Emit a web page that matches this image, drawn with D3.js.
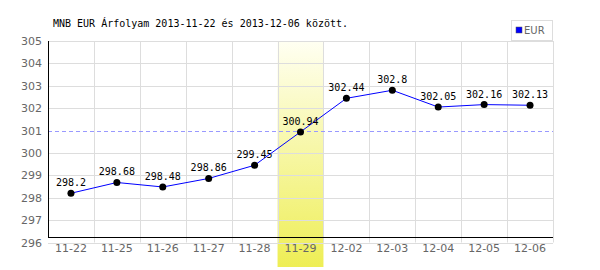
<!DOCTYPE html>
<html>
<head>
<meta charset="utf-8">
<script src="https://cdn.jsdelivr.net/npm/d3@7"></script>
<style>
  body { margin: 0; background: #fff; }
</style>
</head>
<body>
<script>
// Chart data
const dates = ["11-22", "11-25", "11-26", "11-27", "11-28", "11-29", "12-02", "12-03", "12-04", "12-05", "12-06"];
const rates = [298.2, 298.68, 298.48, 298.86, 299.45, 300.94, 302.44, 302.8, 302.05, 302.16, 302.13];
const yTicks = [296, 297, 298, 299, 300, 301, 302, 303, 304, 305];
const average = 301;
const highlightDate = "11-29";
const title = "MNB EUR Árfolyam 2013-11-22 és 2013-12-06 között.";

const width = 600;
const height = 270;
const plotLeft = 48, plotRight = 553, plotTop = 41, plotBottom = 242.5;

const svg = d3.select("body").append("svg")
    .attr("width", width)
    .attr("height", height);

const x = d3.scaleBand()
    .domain(dates)
    .range([plotLeft, plotRight]);

const y = d3.scaleLinear()
    .domain([296, 305])
    .range([plotBottom, plotTop]);

// Gradient for highlighted day
const grad = svg.append("defs").append("linearGradient")
    .attr("id", "hl")
    .attr("x1", 0).attr("y1", 0).attr("x2", 0).attr("y2", 1);
grad.append("stop").attr("offset", "0%").attr("stop-color", "#fffff2");
grad.append("stop").attr("offset", "100%").attr("stop-color", "#eeee55");

svg.append("rect")
    .attr("x", x(highlightDate))
    .attr("y", plotTop)
    .attr("width", x.bandwidth())
    .attr("height", 267 - plotTop)
    .attr("fill", "url(#hl)");

// Grid lines
svg.selectAll(".hgrid")
    .data(yTicks.filter(d => d !== average))
    .enter()
    .append("line")
    .attr("x1", plotLeft).attr("x2", plotRight)
    .attr("y1", d => Math.round(y(d)) + 0.5)
    .attr("y2", d => Math.round(y(d)) + 0.5)
    .attr("stroke", "#dddddd");

svg.selectAll(".vgrid")
    .data(dates.slice(1).concat(["end"]))
    .enter()
    .append("line")
    .attr("x1", d => Math.round(d === "end" ? plotRight : x(d)) + 0.5)
    .attr("x2", d => Math.round(d === "end" ? plotRight : x(d)) + 0.5)
    .attr("y1", plotTop)
    .attr("y2", plotBottom)
    .attr("stroke", "#dddddd");

// Average dashed line
svg.append("line")
    .attr("x1", plotLeft).attr("x2", plotRight)
    .attr("y1", Math.round(y(average)) + 0.5)
    .attr("y2", Math.round(y(average)) + 0.5)
    .attr("stroke", "#9999ff")
    .attr("stroke-dasharray", "4,3");

// Axes lines
svg.append("line")
    .attr("x1", plotLeft + 0.5).attr("x2", plotLeft + 0.5)
    .attr("y1", plotTop).attr("y2", 238)
    .attr("stroke", "#000");
svg.append("line")
    .attr("x1", plotLeft).attr("x2", plotRight)
    .attr("y1", 237.5).attr("y2", 237.5)
    .attr("stroke", "#000");

// Y tick labels
svg.selectAll(".ylab")
    .data(yTicks)
    .enter()
    .append("text")
    .attr("x", 42)
    .attr("y", d => y(d) + 4)
    .attr("text-anchor", "end")
    .attr("font-family", "DejaVu Sans, sans-serif")
    .attr("font-size", 11)
    .attr("fill", "#666")
    .text(d => d);

// X tick labels
svg.selectAll(".xlab")
    .data(dates)
    .enter()
    .append("text")
    .attr("x", d => x(d) + x.bandwidth() / 2)
    .attr("y", 252)
    .attr("text-anchor", "middle")
    .attr("font-family", "DejaVu Sans, sans-serif")
    .attr("font-size", 11)
    .attr("fill", "#666")
    .text(d => d);

// Line
const line = d3.line()
    .x((d, i) => x(dates[i]) + x.bandwidth() / 2)
    .y(d => y(d));

svg.append("path")
    .datum(rates)
    .attr("d", line)
    .attr("fill", "none")
    .attr("stroke", "#0000ff")
    .attr("stroke-width", 1);

svg.selectAll(".pt")
    .data(rates)
    .enter()
    .append("circle")
    .attr("cx", (d, i) => x(dates[i]) + x.bandwidth() / 2)
    .attr("cy", d => y(d))
    .attr("r", 3.5)
    .attr("fill", "#000");

// Value labels
svg.selectAll(".val")
    .data(rates)
    .enter()
    .append("text")
    .attr("x", (d, i) => x(dates[i]) + x.bandwidth() / 2)
    .attr("y", d => y(d) - 7)
    .attr("text-anchor", "middle")
    .attr("font-family", "DejaVu Sans Mono, monospace")
    .attr("font-size", 10)
    .attr("fill", "#000")
    .text(d => d);

// Title
svg.append("text")
    .attr("x", 53)
    .attr("y", 27)
    .attr("font-family", "DejaVu Sans Mono, monospace")
    .attr("font-size", 10)
    .attr("fill", "#000")
    .text(title);

// Legend
svg.append("rect")
    .attr("x", 511.5).attr("y", 20.5)
    .attr("width", 41).attr("height", 20)
    .attr("fill", "#fff")
    .attr("stroke", "#dddddd");
svg.append("rect")
    .attr("x", 516).attr("y", 27)
    .attr("width", 6).attr("height", 6)
    .attr("fill", "#0000ff")
    .attr("stroke", "#555")
    .attr("stroke-width", 0.5);
svg.append("text")
    .attr("x", 524)
    .attr("y", 34)
    .attr("font-family", "DejaVu Sans, sans-serif")
    .attr("font-size", 10)
    .attr("fill", "#666")
    .text("EUR");
</script>
</body>
</html>
